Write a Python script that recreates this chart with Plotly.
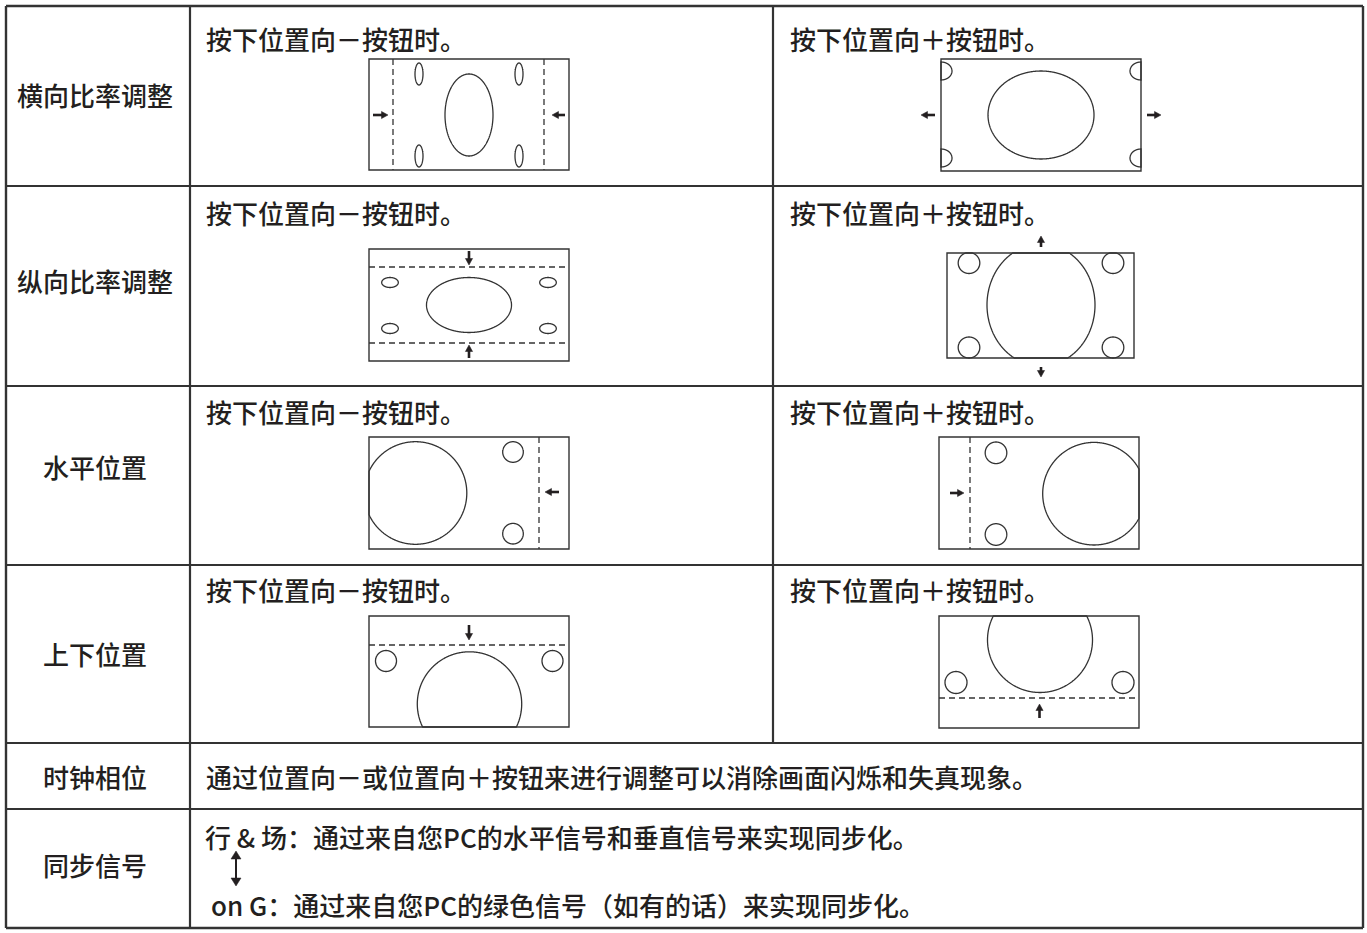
import numpy as np
import plotly.graph_objects as go

FONT = "Noto Sans CJK SC, Noto Sans, sans-serif"
INK = "#231f20"
LINE = "#333333"

# ---- text content ----
row_labels = ["横向比率调整", "纵向比率调整", "水平位置", "上下位置", "时钟相位", "同步信号"]
row_label_y = [94, 280, 466, 653, 776, 864]
header_minus = "按下位置向－按钮时。"
header_plus = "按下位置向＋按钮时。"
header_y = [38, 212, 411, 589]
clock_text = "通过位置向－或位置向＋按钮来进行调整可以消除画面闪烁和失真现象。"
sync_texts = ["行 & 场：通过来自您PC的水平信号和垂直信号来实现同步化。",
              "on G：通过来自您PC的绿色信号（如有的话）来实现同步化。"]
sync_text_x = [203, 209]
sync_text_y = [836, 904]

# ---- table grid ----
row_edges = [6, 186, 386, 565, 743, 809, 928]
col_edges = [6, 190, 773, 1363]

# ---- diagrams: rect (x0,y0,x1,y1), dashed lines, ellipses (cx,cy,rx,ry), arrows (x0,y0,x1,y1) ----
diagrams = [
    dict(rect=(369, 59, 569, 170), vd=[393, 544], hd=[],
         ell=[(469, 115, 24, 41), (419, 74, 4, 11), (519, 74, 4, 11), (419, 156, 4, 11), (519, 156, 4, 11)],
         arr=[(373, 115, 388, 115), (565, 115, 552, 115)]),
    dict(rect=(941, 59, 1141, 171), vd=[], hd=[],
         ell=[(1041, 115, 53, 44), (941, 71, 11, 9), (941, 158, 11, 9), (1141, 71, 11, 9), (1141, 158, 11, 9)],
         arr=[(935, 115, 921, 115), (1147, 115, 1161, 115)]),
    dict(rect=(369, 249, 569, 361), vd=[], hd=[267, 343],
         ell=[(469, 305, 42.5, 27.5), (390, 282.5, 8.3, 5), (548, 282.5, 8.3, 5), (390, 328.5, 8.3, 5), (548, 328.5, 8.3, 5)],
         arr=[(469, 251, 469, 265), (469, 358, 469, 345)]),
    dict(rect=(947, 253, 1134, 358), vd=[], hd=[],
         ell=[(1041, 305, 54, 61), (969, 263, 10.8, 10.5), (1113, 263, 10.8, 10.5), (969, 347.5, 10.8, 10.5), (1113, 347.5, 10.8, 10.5)],
         arr=[(1041, 247, 1041, 236), (1041, 367, 1041, 377)]),
    dict(rect=(369, 437, 569, 549), vd=[539], hd=[],
         ell=[(415.5, 493, 51.3, 51.3), (513, 452, 10.3, 10.3), (513, 533.7, 10.3, 10.3)],
         arr=[(559, 492, 545, 492)]),
    dict(rect=(939, 437, 1139, 549), vd=[970], hd=[],
         ell=[(1094, 493.7, 51.3, 51.3), (996, 452.8, 10.8, 10.8), (996, 534.5, 10.8, 10.8)],
         arr=[(950, 493, 964, 493)]),
    dict(rect=(369, 616, 569, 727), vd=[], hd=[645],
         ell=[(469.5, 704, 52.2, 52.2), (386, 661, 10.5, 10.5), (552.5, 661, 10.5, 10.5)],
         arr=[(469, 625, 469, 640)]),
    dict(rect=(939, 616, 1139, 728), vd=[], hd=[698],
         ell=[(1040, 640, 52.5, 52.5), (956, 682.5, 11, 11), (1123, 682.5, 11, 11)],
         arr=[(1039.5, 718, 1039.5, 704)]),
]

shapes = []


def line(x0, y0, x1, y1, w, color=LINE, dash="solid"):
    shapes.append(dict(type="line", xref="x", yref="y", x0=x0, y0=y0, x1=x1, y1=y1,
                       line=dict(color=color, width=w, dash=dash), layer="above"))


def ellipse(cx, cy, rx, ry, rect):
    x0, y0, x1, y1 = rect
    t = np.linspace(0, 2 * np.pi, 721)
    xs = np.clip(cx + rx * np.cos(t), x0, x1)
    ys = np.clip(cy + ry * np.sin(t), y0, y1)
    d = "M " + " L ".join(f"{a:.2f},{b:.2f}" for a, b in zip(xs, ys)) + " Z"
    shapes.append(dict(type="path", xref="x", yref="y", path=d,
                       line=dict(color=LINE, width=1.3), layer="above"))


def arrow(x0, y0, x1, y1, shaft=2.6, hl=6.5, hw=3.6, both=False):
    vx, vy = x1 - x0, y1 - y0
    L = (vx ** 2 + vy ** 2) ** 0.5
    ux, uy = vx / L, vy / L
    px, py = -uy, ux

    def head(tx, ty, sx, sy):
        bx, by = tx - sx * hl, ty - sy * hl
        d = (f"M {tx},{ty} L {bx + px * hw},{by + py * hw} L {bx - px * hw},{by - py * hw} Z")
        shapes.append(dict(type="path", xref="x", yref="y", path=d,
                           line=dict(color=INK, width=0.5), fillcolor=INK, layer="above"))

    sx0 = x0 + (ux * hl if both else 0)
    sy0 = y0 + (uy * hl if both else 0)
    line(sx0, sy0, x1 - ux * hl * 0.8, y1 - uy * hl * 0.8, shaft, color=INK)
    head(x1, y1, ux, uy)
    if both:
        head(x0, y0, -ux, -uy)


# table lines
for i, y in enumerate(row_edges):
    line(col_edges[0], y, col_edges[-1], y, 2.4 if i in (0, len(row_edges) - 1) else 1.8)
line(col_edges[0], row_edges[0], col_edges[0], row_edges[-1], 2.4)
line(col_edges[-1], row_edges[0], col_edges[-1], row_edges[-1], 2.4)
line(col_edges[1], row_edges[0], col_edges[1], row_edges[-1], 2.2)
line(col_edges[2], row_edges[0], col_edges[2], row_edges[4], 2.2)

# diagrams
for dg in diagrams:
    x0, y0, x1, y1 = dg["rect"]
    for e in dg["ell"]:
        ellipse(*e, dg["rect"])
    for xv in dg["vd"]:
        line(xv, y0, xv, y1, 1.3, dash="6px,4px")
    for yh in dg["hd"]:
        line(x0, yh, x1, yh, 1.3, dash="6px,4px")
    shapes.append(dict(type="rect", xref="x", yref="y", x0=x0, y0=y0, x1=x1, y1=y1,
                       line=dict(color=LINE, width=1.4), layer="above"))
    for a in dg["arr"]:
        arrow(*a)

# double arrow in sync row
arrow(236, 851, 236, 886, shaft=2.0, hl=8, hw=5, both=True)

annotations = []


def text(x, y, s, anchor="left", size=26):
    annotations.append(dict(x=x, y=y, xref="x", yref="y", text=s, showarrow=False,
                            xanchor=anchor, yanchor="middle",
                            font=dict(family=FONT, size=size, color=INK, weight=500)))


for lab, y in zip(row_labels, row_label_y):
    text(95, y, lab, anchor="center")
for y in header_y:
    text(204, y, header_minus)
    text(788, y, header_plus)
text(204, 776, clock_text)
for s, x, y in zip(sync_texts, sync_text_x, sync_text_y):
    text(x, y, s)

fig = go.Figure()
fig.add_trace(go.Scatter(x=[0, 1367], y=[0, 933], mode="markers",
                         marker=dict(opacity=0), hoverinfo="skip", showlegend=False))
fig.update_layout(
    width=1367, height=933, autosize=False,
    margin=dict(l=0, r=0, t=0, b=0, pad=0),
    paper_bgcolor="white", plot_bgcolor="white",
    xaxis=dict(range=[0, 1367], visible=False, fixedrange=True),
    yaxis=dict(range=[933, 0], visible=False, fixedrange=True),
    shapes=shapes, annotations=annotations, showlegend=False,
)
fig.write_html("out.html", config={"displayModeBar": False},
               post_script="document.body.style.margin='0';document.body.style.overflow='hidden';")
